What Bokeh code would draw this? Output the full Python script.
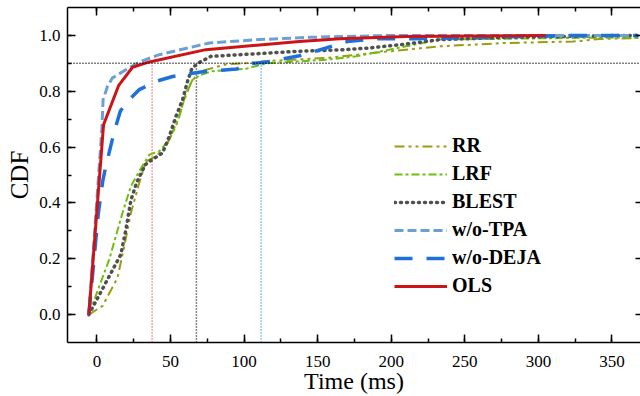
from bokeh.plotting import figure
from bokeh.models import Range1d, LinearAxis, FixedTicker, Span, PrintfTickFormatter
from bokeh.embed import file_html
from bokeh.resources import INLINE

# ---- data ----
rr_x = [-5.5, 3.8, 14, 18.6, 23.1, 28.8, 33.3, 40.1, 46.9, 53.7, 59.4, 63.9, 69.6, 88, 101, 115, 133, 155.8, 176, 187.5, 233, 278, 323.5, 341.7, 368]
rr_y = [0, 0.031, 0.132, 0.245, 0.365, 0.472, 0.549, 0.567, 0.603, 0.675, 0.77, 0.83, 0.87, 0.897, 0.9, 0.908, 0.913, 0.919, 0.93, 0.937, 0.961, 0.973, 0.978, 0.987, 0.991]

lrf_x = [-5.5, 8.4, 17.4, 23.1, 28.8, 35.6, 42.4, 49.2, 56, 60.5, 65, 70.7, 78.5, 101, 115, 137.6, 155.8, 176.2, 187.5, 210, 233, 323, 368]
lrf_y = [0, 0.198, 0.365, 0.46, 0.514, 0.573, 0.585, 0.627, 0.71, 0.794, 0.841, 0.859, 0.872, 0.88, 0.9, 0.907, 0.913, 0.925, 0.937, 0.961, 0.985, 0.991, 0.993]

blest_x = [-5.5, 7.2, 16.3, 19.7, 23.1, 26.9, 32.9, 36.7, 44.6, 49.2, 53.7, 58.2, 61.6, 64.6, 69.6, 77.5, 110.4, 136, 165, 185, 210, 233, 278, 357.6, 368]
blest_y = [0, 0.126, 0.216, 0.305, 0.41, 0.472, 0.537, 0.552, 0.579, 0.639, 0.71, 0.77, 0.836, 0.883, 0.903, 0.925, 0.935, 0.943, 0.948, 0.955, 0.969, 0.985, 0.993, 1.0, 1.0]

tpa_x = [-5.5, 3.3, 4.2, 7.2, 10.6, 19.7, 28.8, 42.4, 76.4, 110.4, 144, 200, 368]
tpa_y = [0, 0.66, 0.77, 0.818, 0.848, 0.877, 0.905, 0.931, 0.973, 0.985, 0.993, 1.0, 1.0]

deja_x = [-5.5, 0.9, 4, 6, 12, 16, 22, 28.8, 40, 51.4, 62, 73, 95, 105, 116, 137.6, 155.8, 170, 190, 215, 260, 323, 368]
deja_y = [0, 0.36, 0.48, 0.53, 0.66, 0.73, 0.77, 0.806, 0.835, 0.853, 0.862, 0.871, 0.88, 0.899, 0.905, 0.927, 0.955, 0.978, 0.988, 0.988, 0.993, 1.0, 1.0]

ols_x = [-5.5, 4.5, 14.7, 24.2, 35.6, 74, 137.6, 165, 210, 305]
ols_y = [0, 0.68, 0.82, 0.886, 0.905, 0.949, 0.978, 0.988, 0.996, 1.0]

p90_x = [37.5, 67.6, 111.6]          # 90th-percentile markers (OLS, BLEST, w/o-DEJA)
p90_colors = ["#d9534f", "#111111", "#3b8ee0"]
p90_level = 0.9

x_ticks = [0, 50, 100, 150, 200, 250, 300, 350]
x_minor = [25 * i for i in range(0, 15)]
y_ticks = [0.0, 0.2, 0.4, 0.6, 0.8, 1.0]
y_minor = [round(0.1 * i, 1) for i in range(0, 11)]

x_title = "Time (ms)"
y_title = "CDF"

FONT = "Liberation Serif"

p = figure(width=640, height=396, x_range=Range1d(-20, 369.4), y_range=Range1d(-0.1, 1.1),
           output_backend="svg", toolbar_location=None,
           min_border_left=67, min_border_right=0, min_border_top=7, min_border_bottom=53)
p.xgrid.visible = False
p.ygrid.visible = False
p.outline_line_color = None
p.background_fill_color = "white"


def style_axis(ax, ticks, minor):
    ax.ticker = FixedTicker(ticks=ticks, minor_ticks=minor)
    ax.axis_line_width = 1.5
    ax.axis_line_color = "black"
    ax.major_tick_in = 8
    ax.major_tick_out = 0
    ax.minor_tick_in = 4
    ax.minor_tick_out = 0
    ax.major_tick_line_width = 1.5
    ax.minor_tick_line_width = 1.5
    ax.major_tick_line_color = "black"
    ax.minor_tick_line_color = "black"
    ax.major_label_text_font = FONT
    ax.major_label_text_font_size = "17px"
    ax.major_label_text_color = "black"


def hide_labels(ax):
    ax.major_label_text_font_size = "0px"
    ax.major_label_text_color = None
    ax.major_label_standoff = 0


xa = p.xaxis[0]
style_axis(xa, x_ticks, x_minor)
xa.major_label_standoff = 13
xa.axis_label = x_title
xa.axis_label_text_font = FONT
xa.axis_label_text_font_size = "24px"
xa.axis_label_text_font_style = "normal"
xa.axis_label_text_color = "black"
xa.axis_label_standoff = -2

ya = p.yaxis[0]
style_axis(ya, y_ticks, y_minor)
ya.formatter = PrintfTickFormatter(format="%.1f")
ya.major_label_standoff = 7
ya.axis_label = y_title
ya.axis_label_text_font = FONT
ya.axis_label_text_font_size = "25px"
ya.axis_label_text_font_style = "normal"
ya.axis_label_text_color = "black"
ya.axis_label_standoff = 3

top = LinearAxis()
style_axis(top, x_ticks, x_minor)
hide_labels(top)
p.add_layout(top, "above")

right = LinearAxis()
style_axis(right, y_ticks, [])
right.axis_line_color = None
right.major_tick_in = 5
hide_labels(right)
p.add_layout(right, "right")

# reference lines
p.add_layout(Span(location=p90_level, dimension="width", line_color="black",
                  line_width=1.5, line_dash="1 2"))
p.segment(x0=p90_x, y0=[-0.1] * 3, x1=p90_x, y1=[p90_level] * 3,
          line_color=p90_colors, line_width=1.5, line_dash="1 2")

# series
p.line(rr_x, rr_y, line_color="#9c9c12", line_width=2, line_dash="10 4 3 4 3 4", legend_label="RR")
p.line(lrf_x, lrf_y, line_color="#6cbf10", line_width=2, line_dash="8 3 3 3", legend_label="LRF")
p.line(blest_x, blest_y, line_color="#505050", line_width=3.5, line_dash="1 5", line_cap="round",
       legend_label="BLEST")
p.line(tpa_x, tpa_y, line_color="#6c9fd6", line_width=3, line_dash="9 4", legend_label="w/o-TPA")
p.line(deja_x, deja_y, line_color="#1f70dc", line_width=3.5, line_dash="18 14", legend_label="w/o-DEJA")
p.line(ols_x, ols_y, line_color="#cc1417", line_width=3, legend_label="OLS")

lg = p.legend[0]
lg.location = (327, 45)
lg.border_line_color = None
lg.background_fill_alpha = 0
lg.padding = 0
lg.margin = 0
lg.spacing = 5
lg.glyph_height = 20
lg.glyph_width = 53
lg.label_height = 20
lg.label_standoff = 5
lg.label_text_font = FONT
lg.label_text_font_style = "bold"
lg.label_text_font_size = "20px"
lg.label_text_color = "black"

open("out.html", "w").write(file_html(p, INLINE))
